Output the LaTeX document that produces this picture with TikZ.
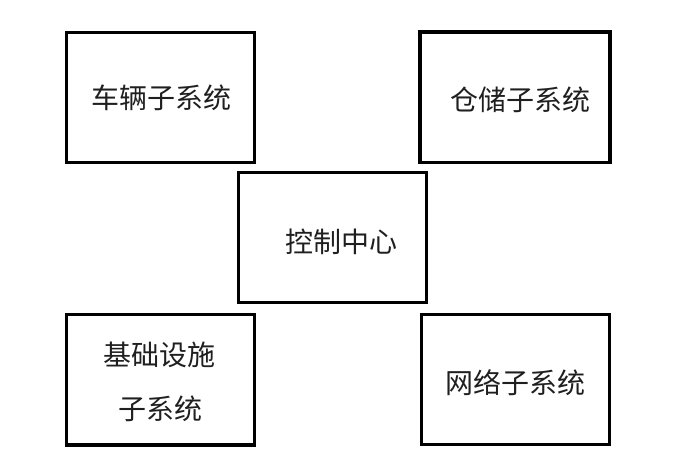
\documentclass[tikz,border=0pt]{standalone}
\usepackage{fontspec}
\newfontfamily\cjk{Noto Sans CJK SC}
\begin{document}
\begin{tikzpicture}[x=1bp,y=-1bp,
  box/.style={draw=black,line width=3.3bp,rectangle,minimum width=188bp,minimum height=130bp,inner sep=0pt},
  lbl/.style={anchor=base,inner sep=0pt,font=\cjk\fontsize{28bp}{34bp}\selectfont,text=black!88}]
\useasboundingbox (0,0) rectangle (684,458);
\node[box,minimum width=188bp,minimum height=130bp] (veh) at (160.5,97.5) {};
\node[box,minimum width=190bp,minimum height=130.5bp] (ware) at (515,97.2) {};
\node[box,minimum width=187.6bp,minimum height=129.6bp] (ctrl) at (332.5,237.5) {};
\node[box,minimum width=188bp,minimum height=130.7bp] (infra) at (160.3,379.7) {};
\node[box,minimum width=187.6bp,minimum height=129.6bp] (net) at (515.5,379.5) {};
\node[lbl] (vehT) at (161.5,108.7) {车辆子系统};
\node[lbl] (wareT) at (520,110.7) {仓储子系统};
\node[lbl] (ctrlT) at (341,252.7) {控制中心};
\node[lbl] (infraT1) at (159,365.7) {基础设施};
\node[lbl] (infraT2) at (160.5,419.7) {子系统};
\node[lbl] (netT) at (515.5,393.7) {网络子系统};
\end{tikzpicture}
\end{document}
